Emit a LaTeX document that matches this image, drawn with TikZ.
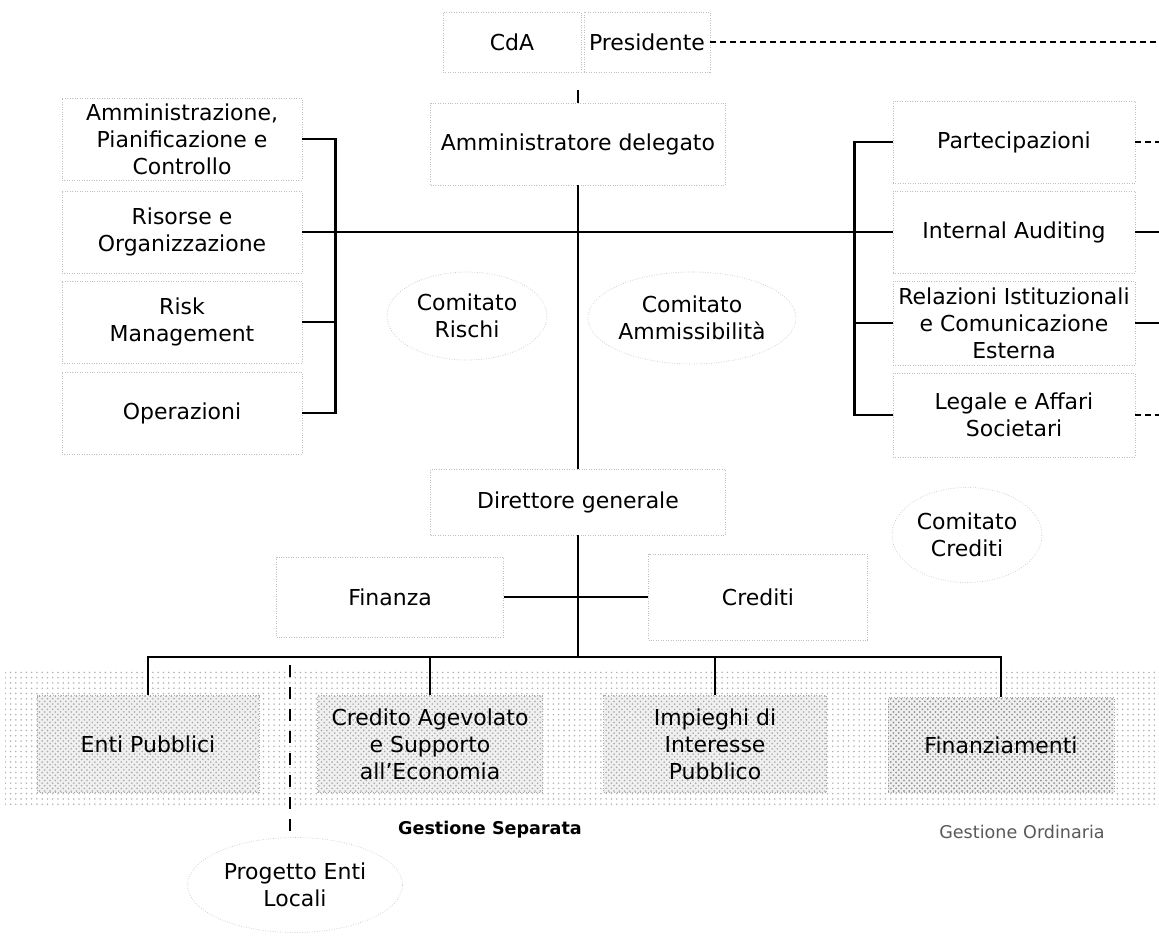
\documentclass[tikz,border=0pt]{standalone}
\usepackage{fontspec}
\setmainfont{DejaVu Sans}
\usetikzlibrary{shapes.geometric,patterns}
\newcommand{\upx}[1]{#1*0.02cm}

\tikzset{
  unitbox/.style={draw=gray!50,densely dotted,line width=0.4pt,fill=white,align=center,inner sep=1pt},
  commbox/.style={ellipse,draw=gray!45,densely dotted,line width=0.4pt,align=center,inner sep=0pt},
  gestbox/.style={draw=gray!65,densely dotted,line width=0.5pt,align=center,inner sep=1pt,
    fill=gray!12,postaction={pattern=crosshatch dots,pattern color=gray!70}},
  link/.style={line width=1.4pt},
  extlink/.style={line width=0.8pt,dash pattern=on 0.12cm off 0.08cm},
}

\begin{document}
\begin{tikzpicture}[x=0.02cm,y=-0.02cm,font=\fontsize{12.5}{15.3}\selectfont]
\useasboundingbox (0,0) rectangle (1159,936);
% stippled band behind the operating units
\fill[pattern=dots,pattern color=gray!60] (5,670) rectangle (1159,805);

% top of the chart
\node[unitbox,minimum width=\upx{138},minimum height=\upx{60}] (cda) at (512,42) {CdA};
\node[unitbox,minimum width=\upx{126},minimum height=\upx{60}] (pres) at (647,42) {Presidente};
\coordinate (top) at (578,90);
\coordinate (edge) at (1159,0);
\node[unitbox,minimum width=\upx{295},minimum height=\upx{82}] (ad) at (578,144) {Amministratore delegato};

% staff units, left
\node[unitbox,minimum width=\upx{240},minimum height=\upx{82}] (amm) at (182,139) {Amministrazione,\\Pianificazione e\\Controllo};
\node[unitbox,minimum width=\upx{240},minimum height=\upx{82}] (ris) at (182,232) {Risorse e\\Organizzazione};
\node[unitbox,minimum width=\upx{240},minimum height=\upx{82}] (risk) at (182,322) {Risk\\Management};
\node[unitbox,minimum width=\upx{240},minimum height=\upx{82}] (oper) at (182,413) {Operazioni};

% staff units, right
\node[unitbox,minimum width=\upx{242},minimum height=\upx{82}] (part) at (1014,142) {Partecipazioni};
\node[unitbox,minimum width=\upx{242},minimum height=\upx{82}] (ia) at (1014,232) {Internal Auditing};
\node[unitbox,minimum width=\upx{242},minimum height=\upx{84}] (rel) at (1014,323) {Relazioni Istituzionali\\e Comunicazione\\Esterna};
\node[unitbox,minimum width=\upx{242},minimum height=\upx{84}] (leg) at (1014,415) {Legale e Affari\\Societari};

% committees
\node[commbox,minimum width=\upx{160},minimum height=\upx{88}] (crischi) at (467,316) {Comitato\\Rischi};
\node[commbox,minimum width=\upx{190},minimum height=\upx{92}] (camm) at (692,318) {Comitato\\Ammissibilità};
\node[commbox,minimum width=\upx{150},minimum height=\upx{95}] (ccred) at (967,535) {Comitato\\Crediti};

% general management
\node[unitbox,minimum width=\upx{295},minimum height=\upx{66}] (dg) at (578,502) {Direttore generale};
\node[unitbox,minimum width=\upx{227},minimum height=\upx{80}] (fin) at (390,597) {Finanza};
\node[unitbox,minimum width=\upx{219},minimum height=\upx{86}] (crd) at (758,597) {Crediti};
\coordinate (bus) at (578,657);

% operating units
\node[gestbox,minimum width=\upx{222},minimum height=\upx{97}] (enti) at (148,744) {Enti Pubblici};
\node[gestbox,minimum width=\upx{225},minimum height=\upx{97}] (cagev) at (430,744) {Credito Agevolato\\e Supporto\\all’Economia};
\node[gestbox,minimum width=\upx{223},minimum height=\upx{97}] (imp) at (715,744) {Impieghi di\\Interesse\\Pubblico};
\node[gestbox,minimum width=\upx{226},minimum height=\upx{95},postaction={pattern=crosshatch dots,pattern color=gray!85}] (finz) at (1001,745) {Finanziamenti};
\node[font=\bfseries\fontsize{10}{12}\selectfont] (gsep) at (490,830) {Gestione Separata};
\node[text=gray!70!black,font=\fontsize{10}{12}\selectfont] (gord) at (1022,832) {Gestione\,\,Ordinaria};
\node[commbox,minimum width=\upx{215},minimum height=\upx{95}] (pel) at (295,885) {Progetto Enti\\Locali};

% connectors
\draw[link] (top) -- (ad.north);
\draw[link] (ad.south) -- (dg.north);
\draw[link] (ris.east) -- (ia.west);
\draw[link] (amm.east) -- ++(33,0) |- (oper.east);
\draw[link] (risk.east) -- ++(33,0);
\draw[link] (part.west) -- ++(-38,0) |- (leg.west);
\draw[link] (rel.west) -- ++(-38,0);
\draw[extlink] (pres.east) -- (pres.east -| edge);
\draw[extlink] (part.east) -- (part.east -| edge);
\draw[link] (ia.east) -- (ia.east -| edge);
\draw[link] (rel.east) -- (rel.east -| edge);
\draw[extlink] (leg.east) -- (leg.east -| edge);
\draw[link] (dg.south) -- (bus);
\draw[link] (fin.east) -- (crd.west);
\draw[link] (enti.north) |- (bus) -| (finz.north);
\draw[link] (cagev.north) -- (cagev.north |- bus);
\draw[link] (imp.north) -- (imp.north |- bus);
\draw[line width=1.4pt,dash pattern=on 0.24cm off 0.2cm] (290,665) -- (290,832);
\end{tikzpicture}
\end{document}
